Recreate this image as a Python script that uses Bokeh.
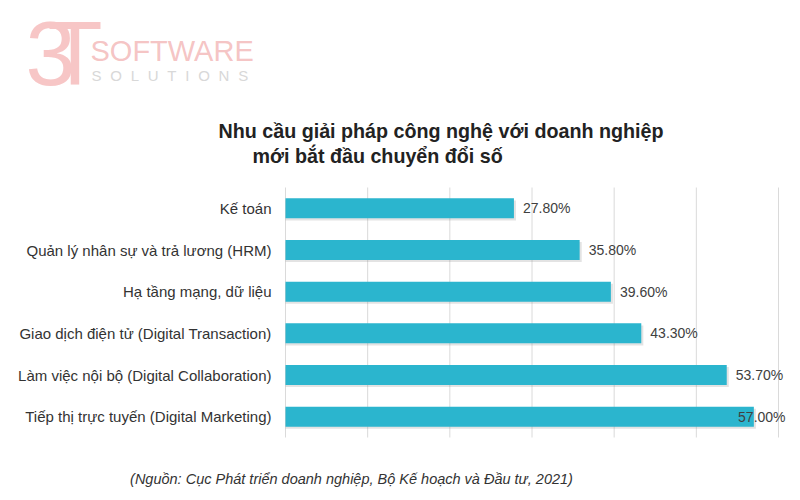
from bokeh.plotting import figure
from bokeh.models import ColumnDataSource, Range1d
from bokeh.core.properties import value
from bokeh.transform import dodge
from bokeh.embed import file_html
from bokeh.resources import INLINE

categories = [
    "Kế toán",
    "Quản lý nhân sự và trả lương (HRM)",
    "Hạ tầng mạng, dữ liệu",
    "Giao dịch điện tử (Digital Transaction)",
    "Làm việc nội bộ (Digital Collaboration)",
    "Tiếp thị trực tuyến (Digital Marketing)",
]
values = [27.8, 35.8, 39.6, 43.3, 53.7, 57.0]
grid_ticks = [0, 10, 20, 30, 40, 50, 60]
title_lines = ["Nhu cầu giải pháp công nghệ với doanh nghiệp", "mới bắt đầu chuyển đổi số"]
source_note = "(Nguồn: Cục Phát triển doanh nghiệp, Bộ Kế hoạch và Đầu tư, 2021)"

FONT = "Liberation Sans"
BAR = "#2BB5CE"
W, H = 800, 500

# layout of the plotting area in canvas pixels
X0_PX, X60_PX = 285, 778          # where 0% and 60% fall
TOP_PX, BOT_PX = 187, 437         # top / bottom of the category band
ppu = (X60_PX - X0_PX) / 60.0
n = len(categories)
row_px = (BOT_PX - TOP_PX) / n

x_range = Range1d(-X0_PX / ppu, (W - X0_PX) / ppu)
# row index 0 at the top; y range flipped
y_range = Range1d(n - 0.5 + (H - BOT_PX) / row_px, -0.5 - TOP_PX / row_px)

p = figure(width=W, height=H, x_range=x_range, y_range=y_range,
           x_axis_location=None, y_axis_location=None,
           output_backend="svg", toolbar_location=None, min_border=0)
p.xgrid.visible = False
p.ygrid.visible = False
p.outline_line_color = None
p.background_fill_color = "white"
p.border_fill_color = "white"
# pixel coordinate system for header / footer texts
p.extra_x_ranges = {"px": Range1d(0, W)}
p.extra_y_ranges = {"px": Range1d(H, 0)}

rows = list(range(n))
X_END = x_range.end
src = ColumnDataSource(dict(
    row=rows,
    cat=categories,
    val=values,
    lx=[min(v + 1.1, X_END - 7.6) for v in values],
    lbl=[f"{v:.2f}%" for v in values],
))

# vertical grid lines limited to the category band
p.segment(x0=grid_ticks, x1=grid_ticks, y0=[-0.5] * len(grid_ticks),
          y1=[n - 0.5] * len(grid_ticks), line_color="#DADADA", line_width=1)

# subtle shadow + bars
p.hbar(y=dodge("row", 0.05), left=0, right=dodge("val", 0.25),
       height=0.48, source=src, fill_color="#808080", fill_alpha=0.22, line_color=None)
p.hbar(y="row", left=0, right="val", height=0.48, source=src,
       fill_color=BAR, line_color=None)

# value labels
p.text(x="lx", y="row", text="lbl", source=src,
       text_font=value(FONT), text_font_size="14px", text_color="#404040",
       text_baseline="middle", text_align="left")

# category labels
p.text(x=0, y="row", text="cat", source=src, x_offset=-14,
       text_font=value(FONT), text_font_size="15px", text_color="#333333",
       text_baseline="middle", text_align="right")


# header / footer texts placed by their baseline (pixel coordinates)
def ptext(x, base_y, text, size, **extra):
    k = 0.32 * size  # baseline correction
    p.text(x=x, y=[b - k for b in base_y], text=text, text_font_size=f"{size}px",
           x_range_name="px", y_range_name="px", text_font=value(FONT),
           text_baseline="alphabetic", **extra)


pink = "#F7C6C6"
ptext([25], [82], ["3"], 90, text_color=pink)
ptext([47], [82], ["T"], 90, text_color=pink)
ptext([90], [60], ["SOFTWARE"], 29, text_color="#F4BDBD", text_alpha=0.9)
ptext([91], [80], ["\u2002\u200a".join("SOLUTIONS")], 15, text_color="#D8D8D8")
ptext([218, 252], [137, 162], title_lines, 19.7, text_font_style="bold",
      text_color="#222222")
ptext([351], [483], [source_note], 14.5, text_font_style="italic",
      text_color="#333333", text_align="center")

open("out.html", "w").write(file_html(p, INLINE))
